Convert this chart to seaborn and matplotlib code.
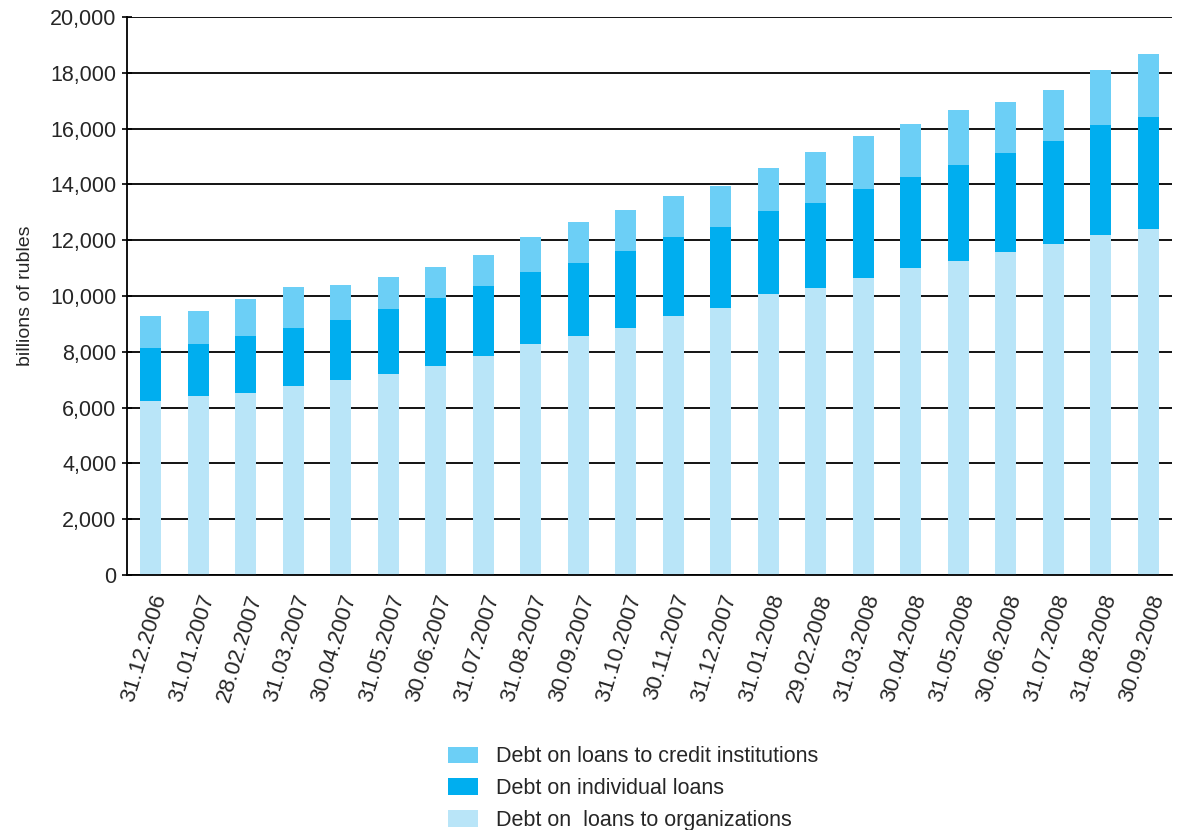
import matplotlib
matplotlib.use('Agg')
import matplotlib.pyplot as plt
import numpy as np
import pandas as pd
import seaborn as sns
from matplotlib.patches import Patch
from matplotlib.ticker import FuncFormatter

dates = ['31.12.2006', '31.01.2007', '28.02.2007', '31.03.2007', '30.04.2007',
         '31.05.2007', '30.06.2007', '31.07.2007', '31.08.2007', '30.09.2007',
         '31.10.2007', '30.11.2007', '31.12.2007', '31.01.2008', '29.02.2008',
         '31.03.2008', '30.04.2008', '31.05.2008', '30.06.2008', '31.07.2008',
         '31.08.2008', '30.09.2008']
organizations = [6250, 6400, 6540, 6760, 6980, 7190, 7480, 7840, 8270, 8560, 8850,
                 9270, 9560, 10060, 10270, 10630, 10990, 11270, 11560, 11850, 12200, 12420]
individuals = [1870, 1870, 2010, 2080, 2150, 2360, 2440, 2510, 2580, 2640, 2780,
               2860, 2930, 3000, 3080, 3220, 3280, 3430, 3570, 3710, 3930, 4000]
credit_inst = [1180, 1180, 1330, 1470, 1260, 1130, 1120, 1120, 1250, 1470, 1470,
               1470, 1460, 1540, 1820, 1890, 1900, 1970, 1820, 1820, 1970, 2260]

labels = ['Debt on loans to credit institutions', 'Debt on individual loans',
          'Debt on  loans to organizations']
colors = ['#6CCFF6', '#00AEEF', '#B9E5F8']

df = pd.DataFrame({'date': dates, 'org': organizations,
                   'ind': individuals, 'cred': credit_inst})
df['lvl2'] = df['org'] + df['ind']
df['total'] = df['lvl2'] + df['cred']

sns.set_style('white')
plt.rcParams['font.family'] = ['Liberation Sans', 'DejaVu Sans']

fig = plt.figure(figsize=(11.79, 8.30), dpi=100)
ax = fig.add_axes([0.1077, 0.3072, 0.8864, 0.6723])

# stacked bars: draw cumulative heights, tallest first
for col, c in zip(['total', 'lvl2', 'org'], colors):
    sns.barplot(data=df, x='date', y=col, color=c, width=0.44,
                saturation=1, linewidth=0, edgecolor='none', ax=ax, zorder=2)

ax.set_ylim(0, 20000)
ax.set_xlim(-0.5, len(dates) - 0.5)
ax.set_yticks(np.arange(0, 20001, 2000))
ax.yaxis.set_major_formatter(FuncFormatter(lambda v, p: f'{int(v):,}'))
ax.set_axisbelow(True)
ax.yaxis.grid(True, color='black', linewidth=1.3)
ax.xaxis.grid(False)

for s in ['top', 'right']:
    ax.spines[s].set_visible(False)
for s in ['left', 'bottom']:
    ax.spines[s].set_color('black')
    ax.spines[s].set_linewidth(1.3)

ax.set_xticks(range(len(dates)))
ax.set_xticklabels(dates, rotation=73, ha='right', rotation_mode='anchor', fontsize=16)
ax.tick_params(axis='x', which='major', length=0, pad=12)
ax.set_xticks(np.arange(-0.5, len(dates)), minor=True)
ax.tick_params(axis='x', which='minor', length=6, width=1.2, color='black', direction='out')
ax.tick_params(axis='y', length=7, width=1.2, color='black', direction='inout',
               labelsize=15.5, left=True, pad=4)

ax.set_xlabel('')
ax.set_ylabel('billions of rubles', fontsize=14, labelpad=12)

handles = [Patch(facecolor=c, edgecolor='none') for c in colors]
fig.legend(handles, labels, loc='center', bbox_to_anchor=(0.537, 0.05), frameon=False,
           fontsize=15.5, handlelength=1.4, handleheight=0.8, labelspacing=0.5,
           handletextpad=0.8)

fig.savefig('out.png', dpi=100)
